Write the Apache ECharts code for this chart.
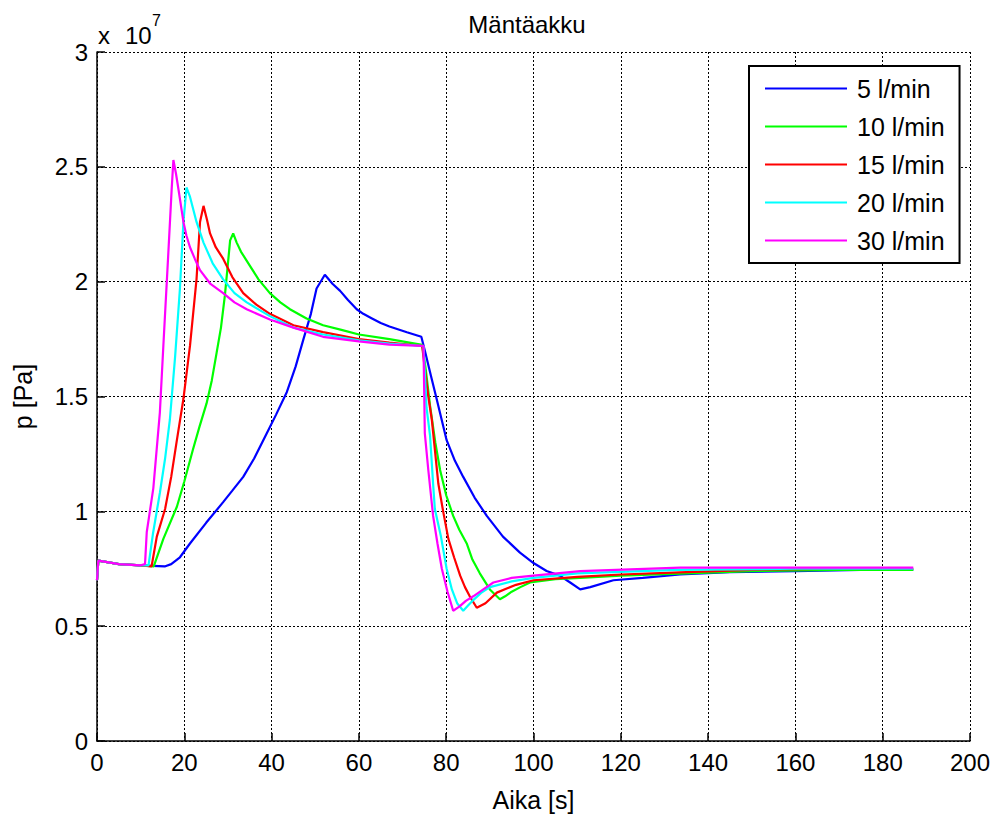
<!DOCTYPE html>
<html>
<head>
<meta charset="utf-8">
<script src="https://cdn.jsdelivr.net/npm/echarts@6/dist/echarts.min.js"></script>
<style>
html,body{margin:0;padding:0;background:#fff;}
#chart{width:1000px;height:817px;}
</style>
</head>
<body>
<div id="chart"></div>
<script>
// Pressure values in units of 1e7 Pa
var seriesNames = ['5 l/min', '10 l/min', '15 l/min', '20 l/min', '30 l/min'];
var seriesColors = ['#0000FF', '#00FF00', '#FF0000', '#00FFFF', '#FF00FF'];

var t5 = [0,0.3,2,5,10,15.5,17,19,21.3,25,28.9,31,33.5,36,38.9,41,43.5,45.5,47.3,49,50.3,52.2,54,55.7,57.5,59.5,61,63,65,67,71,74.3,75.1,76.5,77.8,80.1,82,83.9,86.5,89.3,93,96.9,100,103,106,108.4,110.7,113,118.3,125,133.6,145,160,175,187];
var p5 = [0.70,0.785,0.78,0.77,0.765,0.76,0.77,0.80,0.86,0.95,1.04,1.09,1.15,1.23,1.34,1.42,1.52,1.63,1.75,1.86,1.97,2.03,1.99,1.96,1.92,1.88,1.86,1.84,1.82,1.805,1.78,1.76,1.70,1.59,1.49,1.31,1.22,1.15,1.06,0.98,0.89,0.82,0.775,0.74,0.72,0.69,0.66,0.67,0.70,0.71,0.725,0.735,0.74,0.745,0.745];

var t10 = [0,0.3,2,5,10,13,15.2,18.3,20,22,23.5,25.1,26.3,27.4,28.4,29.3,30.5,31.2,32,33,35,37,39.6,42,44.2,48,51.8,56,60,67,74.5,75.3,76.3,77.5,78.6,80,81.6,83,84.7,86,87.7,90,92.3,93.5,95,97,99.2,105,110.7,120,135,150,170,187];
var p10 = [0.70,0.785,0.78,0.77,0.765,0.76,0.88,1.02,1.13,1.27,1.37,1.47,1.57,1.69,1.80,1.94,2.18,2.21,2.17,2.13,2.07,2.01,1.95,1.91,1.88,1.84,1.81,1.79,1.77,1.75,1.725,1.62,1.46,1.30,1.18,1.07,0.98,0.92,0.86,0.79,0.73,0.66,0.617,0.63,0.65,0.67,0.69,0.705,0.71,0.72,0.73,0.74,0.745,0.745];

var t15 = [0,0.3,2,5,10,12.5,13.7,15.6,17,18.3,19.8,21.3,22.8,23.6,24.4,25.2,25.9,27.2,28.9,31,33.5,36.5,39.6,45,51.8,60,67,74.5,75.1,75.9,76.7,78.2,79.3,80.5,81.8,83.2,84.3,85.4,87,88,89,91.6,94,96,100,110,120,135,150,170,187];
var p15 = [0.70,0.785,0.78,0.77,0.765,0.76,0.89,1.01,1.15,1.31,1.49,1.72,2.01,2.26,2.33,2.27,2.21,2.15,2.10,2.02,1.95,1.90,1.86,1.81,1.78,1.75,1.735,1.72,1.62,1.50,1.40,1.12,1.00,0.88,0.80,0.72,0.67,0.63,0.58,0.59,0.60,0.646,0.665,0.68,0.70,0.715,0.725,0.735,0.745,0.75,0.75];

var t20 = [0,0.3,2,5,10,11.8,12.8,14.4,15.6,16.7,17.9,19,19.8,20.5,21.3,22.8,24.4,26.5,28.9,31.5,34.3,39.6,45,51.8,60,67,74.8,75.5,76.3,77,77.4,78.8,80.1,81.3,82.5,83.9,85,86,88,90,95,100,110,133,160,187];
var p20 = [0.70,0.785,0.78,0.77,0.765,0.765,0.90,1.08,1.23,1.40,1.675,1.97,2.26,2.41,2.37,2.26,2.17,2.08,2.01,1.95,1.91,1.85,1.80,1.77,1.745,1.73,1.72,1.45,1.33,1.12,1.01,0.89,0.75,0.66,0.60,0.567,0.59,0.61,0.645,0.67,0.695,0.71,0.73,0.745,0.75,0.75];

var t30 = [0,0.3,2,5,10,11,11.4,12.9,14.4,15.2,16.3,17.1,17.5,18.1,18.6,19.8,20.5,21.3,22.4,23.6,26,28.9,31.5,34.3,39.6,45,51.8,60,67,74.8,75.1,75.9,77,78,79,80.3,81.6,83,84.5,86.2,88.5,90.8,95,100,110.7,133.6,160,187];
var p30 = [0.70,0.785,0.78,0.77,0.765,0.77,0.91,1.10,1.43,1.72,2.11,2.40,2.53,2.47,2.41,2.26,2.20,2.15,2.10,2.05,1.99,1.95,1.91,1.88,1.835,1.80,1.76,1.74,1.726,1.72,1.34,1.18,0.98,0.86,0.75,0.65,0.567,0.585,0.61,0.63,0.66,0.69,0.71,0.72,0.74,0.755,0.755,0.755];

var xTicks = [0,20,40,60,80,100,120,140,160,180,200];
var yTicks = [0,0.5,1,1.5,2,2.5,3];

var allT = [t5, t10, t15, t20, t30];
var allP = [p5, p10, p15, p20, p30];

function zip(t, p) {
  var out = [];
  for (var i = 0; i < t.length; i++) out.push([t[i], p[i]]);
  return out;
}

var FONT = '"Liberation Sans", Arial, sans-serif';

var series = seriesNames.map(function (name, i) {
  return {
    name: name,
    type: 'line',
    data: zip(allT[i], allP[i]),
    showSymbol: false,
    symbol: 'none',
    lineStyle: { color: seriesColors[i], width: 2.2 },
    itemStyle: { color: seriesColors[i] },
    animation: false,
    z: 2 + i
  };
});

var chart = echarts.init(document.getElementById('chart'), null, { renderer: 'svg' });
chart.setOption({
  backgroundColor: '#fff',
  animation: false,
  grid: { left: 97, right: 30, top: 52, bottom: 75, containLabel: false },
  xAxis: {
    type: 'value',
    min: xTicks[0], max: xTicks[xTicks.length - 1], interval: 20,
    name: 'Aika [s]', nameLocation: 'middle', nameGap: 46,
    nameTextStyle: { fontFamily: FONT, fontSize: 25, color: '#000' },
    axisLine: { show: true, onZero: false, lineStyle: { color: '#000', width: 1.5 } },
    axisTick: { show: true, inside: true, length: 8, lineStyle: { color: '#000', width: 1.5 } },
    axisLabel: { fontFamily: FONT, fontSize: 24, color: '#000', margin: 9 },
    splitLine: { show: true, lineStyle: { color: '#000', width: 1, type: [2, 2] } }
  },
  yAxis: {
    type: 'value',
    min: yTicks[0], max: yTicks[yTicks.length - 1], interval: 0.5,
    name: 'p [Pa]', nameLocation: 'middle', nameGap: 62, nameRotate: 90,
    nameTextStyle: { fontFamily: FONT, fontSize: 25, color: '#000' },
    axisLine: { show: true, onZero: false, lineStyle: { color: '#000', width: 1.5 } },
    axisTick: { show: true, inside: true, length: 8, lineStyle: { color: '#000', width: 1.5 } },
    axisLabel: { fontFamily: FONT, fontSize: 24, color: '#000', margin: 9 },
    splitLine: { show: true, lineStyle: { color: '#000', width: 1, type: [2, 2] } }
  },
  legend: {
    orient: 'vertical',
    left: 749, top: 66,
    padding: [10, 15, 10, 16],
    itemGap: 13,
    itemWidth: 82,
    itemHeight: 2,
    icon: 'rect',
    borderColor: '#000',
    borderWidth: 2,
    backgroundColor: '#fff',
    textStyle: { fontFamily: FONT, fontSize: 25, color: '#000', padding: [0, 0, 0, 5] },
    data: seriesNames
  },
  graphic: [
    {
      type: 'text', x: 527, y: 24,
      style: { text: 'Mäntäakku', font: '24px ' + FONT, fill: '#000', textAlign: 'center', textVerticalAlign: 'middle' }
    },
    {
      type: 'text', x: 98, y: 35,
      style: { text: 'x', font: '24px ' + FONT, fill: '#000', textAlign: 'left', textVerticalAlign: 'middle' }
    },
    {
      type: 'text', x: 125, y: 35,
      style: { text: '10', font: '24px ' + FONT, fill: '#000', textAlign: 'left', textVerticalAlign: 'middle' }
    },
    {
      type: 'text', x: 152, y: 20,
      style: { text: '7', font: '16px ' + FONT, fill: '#000', textAlign: 'left', textVerticalAlign: 'middle' }
    }
  ],
  series: series
});
</script>
</body>
</html>
